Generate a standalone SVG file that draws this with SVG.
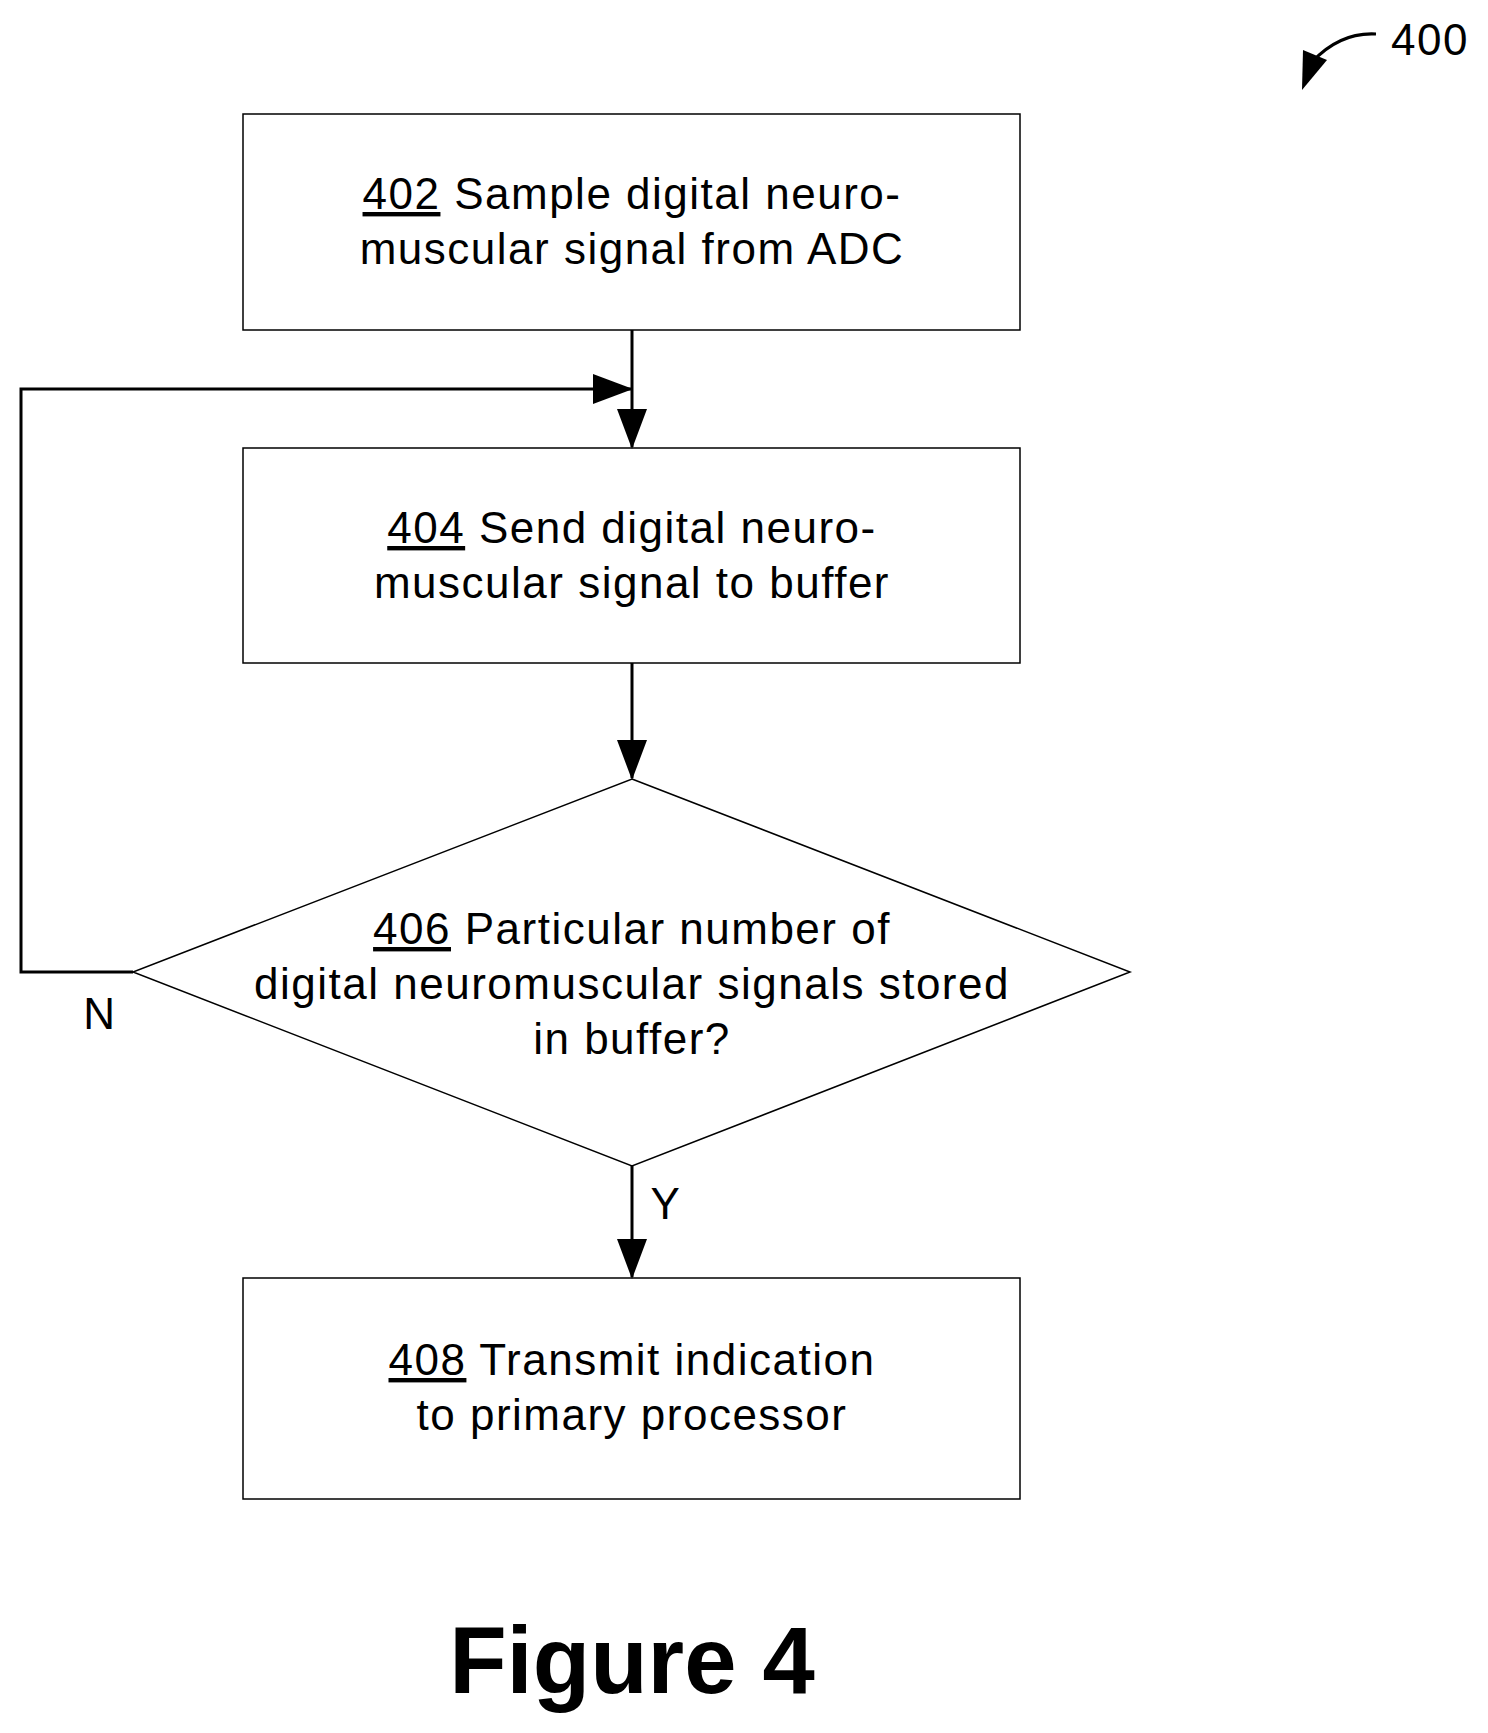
<svg xmlns="http://www.w3.org/2000/svg" width="1488" height="1733" viewBox="0 0 1488 1733">
<style>
.b{fill:#fff;stroke:#000;stroke-width:1.5}
.t{font-family:"Liberation Sans",Arial,sans-serif;font-size:44px;letter-spacing:1.5px;text-anchor:middle;fill:#000}
.u{text-decoration:underline}
.c{fill:none;stroke:#000;stroke-width:3}
</style>
<defs>
<marker id="ah" viewBox="0 0 40 30" markerWidth="40" markerHeight="30" refX="38" refY="15" orient="auto" markerUnits="userSpaceOnUse"><path d="M0,0 L40,15 L0,30 Z"/></marker>
</defs>
<g id="n402"><rect class="b" x="243" y="114" width="777" height="216"/>
<text class="t" x="632" y="209"><tspan class="u">402</tspan> Sample digital neuro-</text>
<text class="t" x="632" y="264">muscular signal from ADC</text></g>
<g id="n404"><rect class="b" x="243" y="448" width="777" height="215"/>
<text class="t" x="632" y="543"><tspan class="u">404</tspan> Send digital neuro-</text>
<text class="t" x="632" y="598">muscular signal to buffer</text></g>
<g id="n406"><polygon class="b" points="632,779 1130,972 632,1166 133,972"/>
<text class="t" x="632" y="944"><tspan class="u">406</tspan> Particular number of</text>
<text class="t" x="632" y="999">digital neuromuscular signals stored</text>
<text class="t" x="632" y="1054">in buffer?</text></g>
<g id="n408"><rect class="b" x="243" y="1278" width="777" height="221"/>
<text class="t" x="632" y="1375"><tspan class="u">408</tspan> Transmit indication</text>
<text class="t" x="632" y="1430">to primary processor</text></g>
<g id="connectors">
<line class="c" x1="632" y1="330" x2="632" y2="447" marker-end="url(#ah)"/>
<line class="c" x1="632" y1="663" x2="632" y2="778" marker-end="url(#ah)"/>
<line class="c" x1="632" y1="1166" x2="632" y2="1277" marker-end="url(#ah)"/>
<polyline class="c" points="133,972 21,972 21,389 631,389" marker-end="url(#ah)"/>
<text class="t" x="100" y="1029">N</text>
<text class="t" x="666" y="1219">Y</text>
</g>
<g id="ref400">
<path d="M1376,34 Q1340,32 1312,62" class="c" stroke-width="3.5"/>
<path d="M1303,50 L1327,60 L1302,90 Z"/>
<text class="t" x="1430" y="55">400</text>
</g>
<text class="t" x="632" y="1693" style="font-size:94px;font-weight:bold;letter-spacing:0">Figure 4</text>
</svg>
